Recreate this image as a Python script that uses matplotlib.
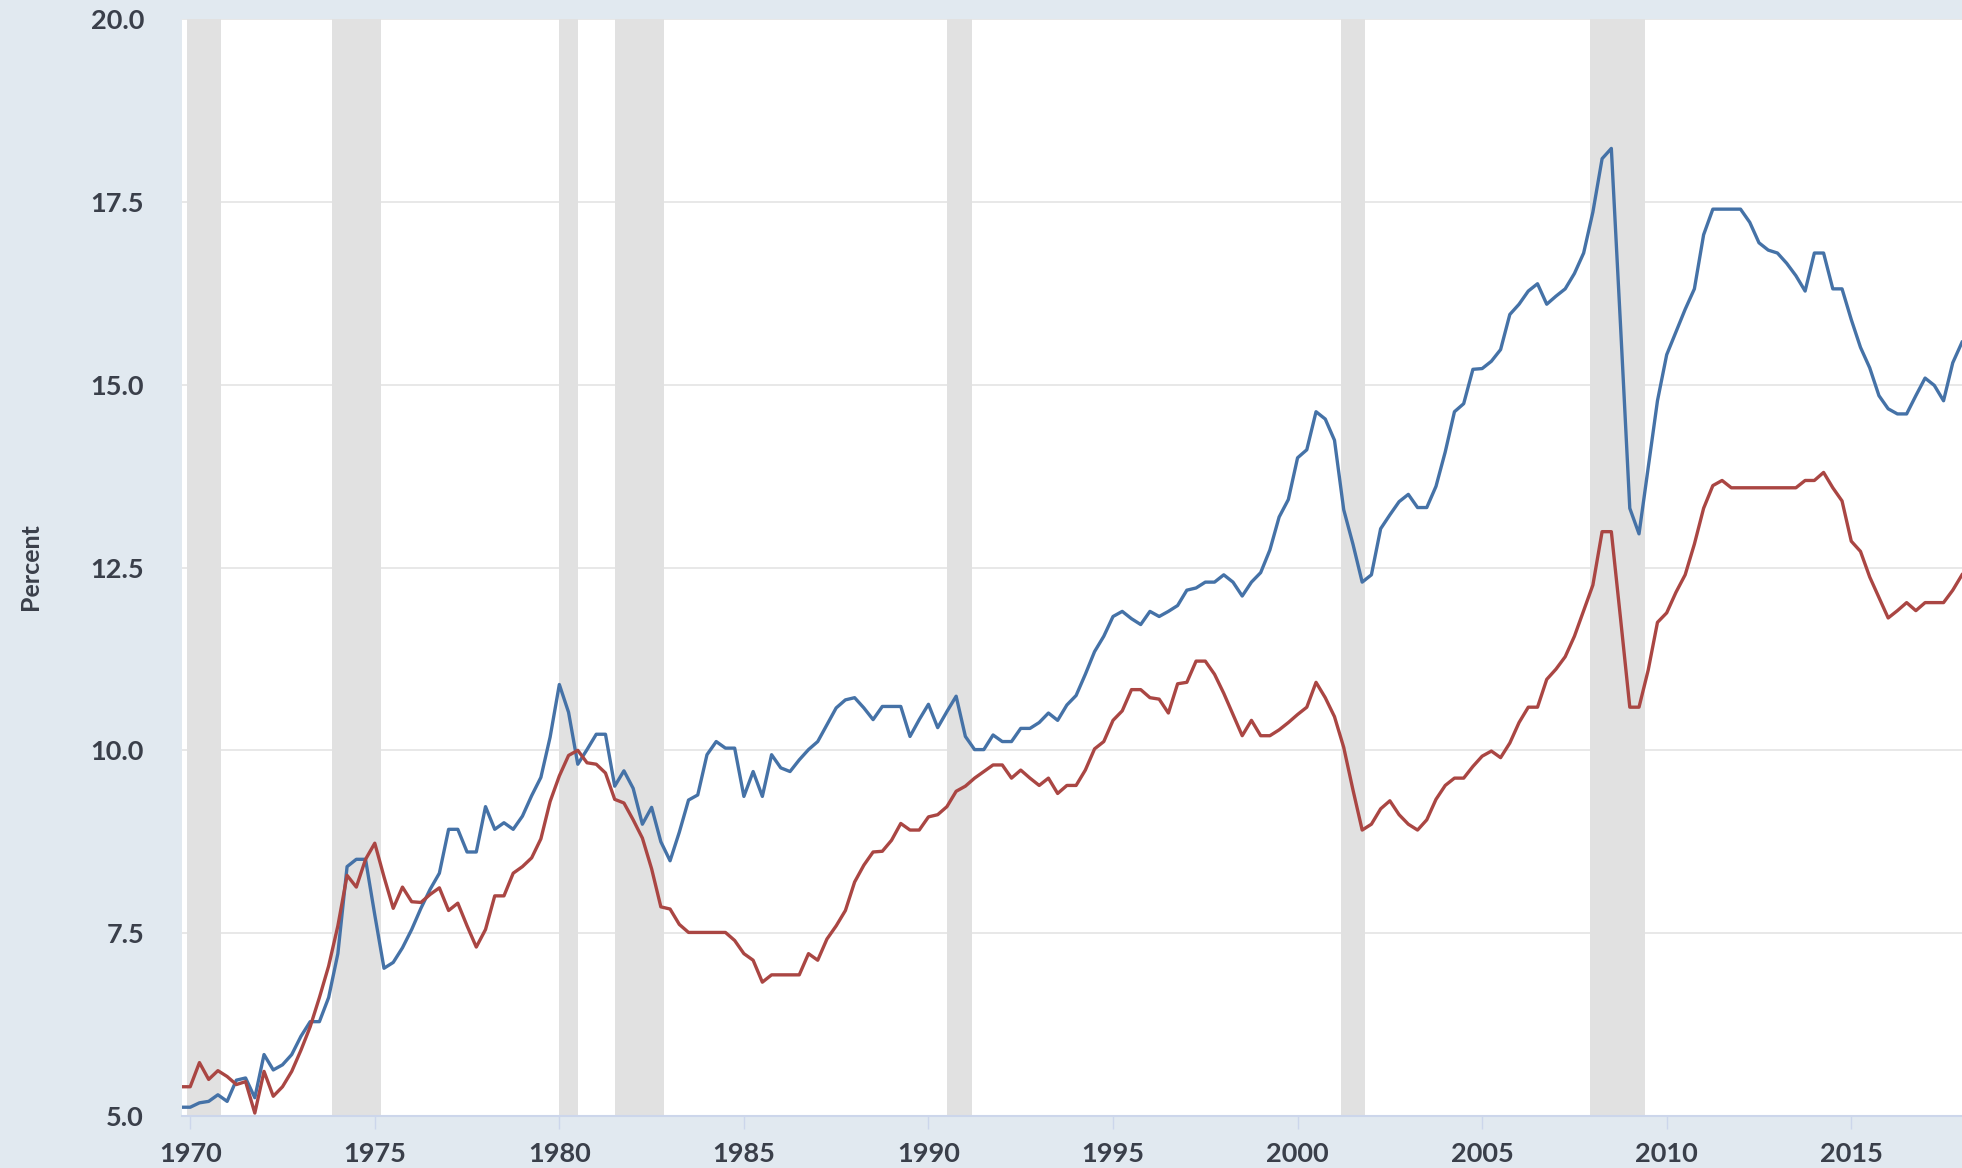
import matplotlib
matplotlib.use("Agg")
import matplotlib.pyplot as plt
import numpy as np

# ---------------- data (quarterly, first point = 1969 Q4) ----------------
first_quarter = 1969.75

blue_series = [
    5.12,                          # 1969 Q4
    5.12, 5.18, 5.20, 5.29,        # 1970
    5.20, 5.49, 5.52, 5.25,        # 1971
    5.84, 5.63, 5.70, 5.84,        # 1972
    6.09, 6.29, 6.29, 6.62,        # 1973
    7.22, 8.41, 8.51, 8.51,        # 1974
    7.75, 7.02, 7.10, 7.30,        # 1975
    7.55, 7.84, 8.10, 8.32,        # 1976
    8.92, 8.92, 8.61, 8.61,        # 1977
    9.23, 8.92, 9.01, 8.92,        # 1978
    9.10, 9.38, 9.63, 10.18,       # 1979
    10.90, 10.52, 9.81, 10.01,     # 1980
    10.22, 10.22, 9.51, 9.72,      # 1981
    9.48, 8.99, 9.22, 8.75,        # 1982
    8.49, 8.88, 9.32, 9.39,        # 1983
    9.94, 10.12, 10.03, 10.03,     # 1984
    9.37, 9.71, 9.37, 9.94,        # 1985
    9.76, 9.71, 9.87, 10.01,       # 1986
    10.12, 10.35, 10.58, 10.69,    # 1987
    10.72, 10.58, 10.42, 10.60,    # 1988
    10.60, 10.60, 10.19, 10.42,    # 1989
    10.63, 10.31, 10.53, 10.74,    # 1990
    10.19, 10.01, 10.01, 10.21,    # 1991
    10.12, 10.12, 10.30, 10.30,    # 1992
    10.38, 10.51, 10.41, 10.62,    # 1993
    10.75, 11.04, 11.35, 11.56,    # 1994
    11.83, 11.90, 11.80, 11.72,    # 1995
    11.90, 11.83, 11.90, 11.98,    # 1996
    12.19, 12.22, 12.30, 12.30,    # 1997
    12.40, 12.30, 12.11, 12.30,    # 1998
    12.43, 12.74, 13.19, 13.43,    # 1999
    14.00, 14.11, 14.63, 14.53,    # 2000
    14.24, 13.29, 12.82, 12.30,    # 2001
    12.40, 13.03, 13.22, 13.40,    # 2002
    13.50, 13.32, 13.32, 13.61,    # 2003
    14.08, 14.63, 14.74, 15.21,    # 2004
    15.22, 15.32, 15.48, 15.96,    # 2005
    16.10, 16.28, 16.38, 16.10,    # 2006
    16.21, 16.31, 16.52, 16.80,    # 2007
    17.36, 18.09, 18.23, 15.80,    # 2008
    13.31, 12.96, 13.87, 14.78,    # 2009
    15.41, 15.72, 16.03, 16.31,    # 2010
    17.05, 17.40, 17.40, 17.40,    # 2011
    17.40, 17.22, 16.94, 16.84,    # 2012
    16.80, 16.66, 16.49, 16.28,    # 2013
    16.80, 16.80, 16.31, 16.31,    # 2014
    15.89, 15.51, 15.23, 14.85,    # 2015
    14.67, 14.60, 14.60, 14.85,    # 2016
    15.09, 14.99, 14.78, 15.30,    # 2017
    15.58,                         # 2018 Q1
]

red_series = [
    5.40,                          # 1969 Q4
    5.40, 5.73, 5.50, 5.62,        # 1970
    5.54, 5.43, 5.47, 5.04,        # 1971
    5.61, 5.27, 5.40, 5.61,        # 1972
    5.90, 6.22, 6.62, 7.05,        # 1973
    7.60, 8.29, 8.13, 8.51,        # 1974
    8.73, 8.27, 7.84, 8.13,        # 1975
    7.93, 7.92, 8.03, 8.12,        # 1976
    7.81, 7.91, 7.60, 7.31,        # 1977
    7.55, 8.01, 8.01, 8.32,        # 1978
    8.41, 8.53, 8.79, 9.30,        # 1979
    9.65, 9.93, 10.00, 9.83,       # 1980
    9.81, 9.69, 9.33, 9.28,        # 1981
    9.05, 8.80, 8.38, 7.86,        # 1982
    7.83, 7.62, 7.51, 7.51,        # 1983
    7.51, 7.51, 7.51, 7.40,        # 1984
    7.22, 7.13, 6.83, 6.93,        # 1985
    6.93, 6.93, 6.93, 7.22,        # 1986
    7.13, 7.42, 7.60, 7.81,        # 1987
    8.20, 8.43, 8.61, 8.62,        # 1988
    8.77, 9.00, 8.91, 8.91,        # 1989
    9.09, 9.12, 9.23, 9.44,        # 1990
    9.51, 9.62, 9.71, 9.80,        # 1991
    9.80, 9.62, 9.73, 9.62,        # 1992
    9.52, 9.62, 9.41, 9.52,        # 1993
    9.52, 9.73, 10.02, 10.12,      # 1994
    10.41, 10.54, 10.83, 10.83,    # 1995
    10.72, 10.70, 10.51, 10.91,    # 1996
    10.93, 11.22, 11.22, 11.04,    # 1997
    10.78, 10.49, 10.20, 10.41,    # 1998
    10.20, 10.20, 10.28, 10.38,    # 1999
    10.49, 10.59, 10.93, 10.72,    # 2000
    10.46, 10.04, 9.46, 8.91,      # 2001
    8.99, 9.20, 9.31, 9.12,        # 2002
    8.99, 8.91, 9.05, 9.33,        # 2003
    9.52, 9.62, 9.62, 9.78,        # 2004
    9.92, 9.99, 9.90, 10.10,       # 2005
    10.38, 10.59, 10.59, 10.97,    # 2006
    11.11, 11.28, 11.56, 11.91,    # 2007
    12.26, 12.99, 12.99, 11.80,    # 2008
    10.59, 10.59, 11.10, 11.75,    # 2009
    11.88, 12.16, 12.40, 12.82,    # 2010
    13.31, 13.62, 13.69, 13.59,    # 2011
    13.59, 13.59, 13.59, 13.59,    # 2012
    13.59, 13.59, 13.59, 13.69,    # 2013
    13.69, 13.80, 13.59, 13.41,    # 2014
    12.86, 12.72, 12.37, 12.09,    # 2015
    11.81, 11.91, 12.02, 11.91,    # 2016
    12.02, 12.02, 12.02, 12.19,    # 2017
    12.40,                         # 2018 Q1
]

# NBER recessions (start, end) in decimal years
recessions = [
    (1969.92, 1970.83),
    (1973.83, 1975.17),
    (1980.00, 1980.50),
    (1981.50, 1982.83),
    (1990.50, 1991.17),
    (2001.17, 2001.83),
    (2007.92, 2009.42),
]

x_ticks = [1970, 1975, 1980, 1985, 1990, 1995, 2000, 2005, 2010, 2015]
x_tick_labels = [str(t) for t in x_ticks]
y_ticks = [5.0, 7.5, 10.0, 12.5, 15.0, 17.5, 20.0]
y_tick_labels = ["5.0", "7.5", "10.0", "12.5", "15.0", "17.5", "20.0"]
y_label = "Percent"

# ---------------- style ----------------
BG = "#E1E9F0"
BLUE = "#4572A7"
RED = "#AA4643"
BAND = "#E1E1E1"
GRID = "#E6E6E6"
AXIS = "#CCD6EB"
TEXT = "#3A3F4A"
FONT = ["Lato", "DejaVu Sans"]

plt.rcParams["font.family"] = FONT

W, H = 1962, 1168
fig = plt.figure(figsize=(W / 100, H / 100), dpi=100, facecolor=BG)
left_px, right_px, top_px, bottom_px = 181.5, 1962, 19, 1116
ax = fig.add_axes([left_px / W, 1 - bottom_px / H,
                   (right_px - left_px) / W, (bottom_px - top_px) / H])
ax.set_facecolor("white")

quarters = first_quarter + 0.25 * np.arange(len(blue_series))

ax.set_axisbelow(True)
ax.yaxis.grid(True, color=GRID, linewidth=1.3)
for s, e in recessions:
    ax.axvspan(s, e, color=BAND, linewidth=0, zorder=0.8)

ax.plot(quarters, blue_series, color=BLUE, linewidth=2.4, zorder=3,
        solid_joinstyle="round")
ax.plot(quarters[:len(red_series)], red_series, color=RED, linewidth=2.4,
        zorder=3, solid_joinstyle="round")

ax.set_xlim(1969.764, 2018.0)
ax.set_ylim(5, 20)

ax.set_xticks(x_ticks)
ax.set_xticklabels(x_tick_labels)
ax.set_yticks(y_ticks)
ax.set_yticklabels(y_tick_labels)

for sp in ["top", "right", "left"]:
    ax.spines[sp].set_visible(False)
ax.spines["bottom"].set_color(AXIS)
ax.spines["bottom"].set_linewidth(1.5)

ax.tick_params(axis="x", length=9, width=1, color=AXIS, pad=10,
               labelsize=19.5, labelcolor=TEXT)
ax.tick_params(axis="y", length=0, pad=27, labelsize=19.5, labelcolor=TEXT)
for lab in ax.get_xticklabels() + ax.get_yticklabels():
    lab.set_fontweight("bold")

fig.text(30 / W, 1 - 567 / H, y_label, rotation=90, ha="center", va="center",
         fontsize=18, color=TEXT, fontweight="bold")

fig.savefig("out.png", dpi=100, facecolor=BG)
